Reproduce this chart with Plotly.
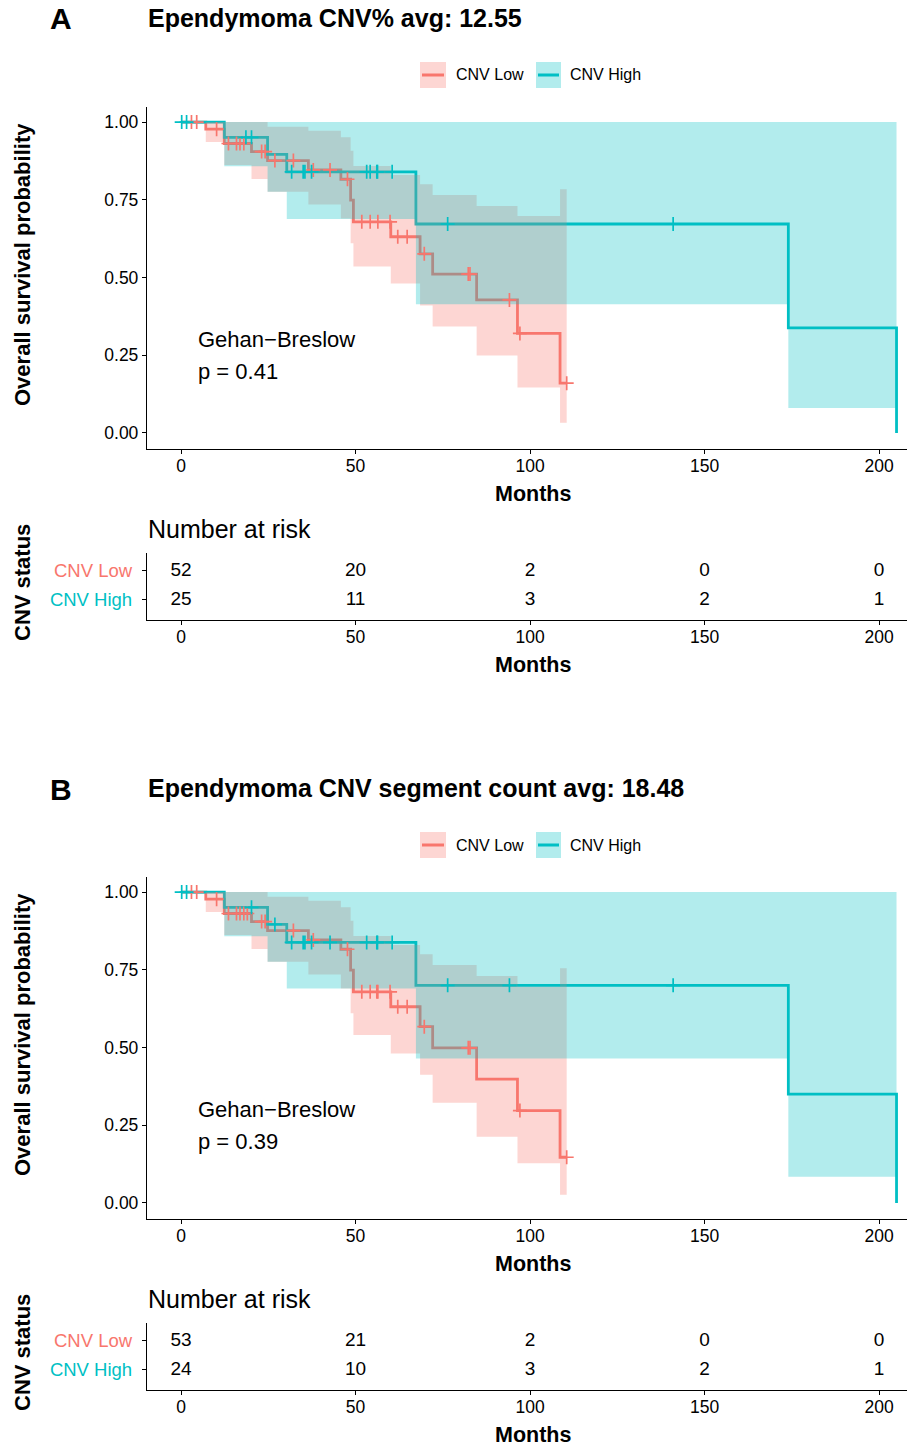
import numpy as np
import plotly.graph_objects as go

W, H = 907, 1447
RED = "#F8766D"
TEAL = "#00BFC4"
RED_FILL = "rgba(248,118,109,0.3)"
TEAL_FILL = "rgba(0,191,196,0.3)"
FONT = "Liberation Sans, Arial, sans-serif"

# ---- Panel A: CNV% split ----
a_low_t = [0, 7.1, 12.4, 20.2, 24.8, 36.5, 45.8, 48.6, 49.4, 60.1, 68.5, 72.1, 84.7, 96.4, 108.6, 110.5]
a_low_s = [1.0, 0.977, 0.931, 0.905, 0.876, 0.846, 0.816, 0.749, 0.679, 0.631, 0.576, 0.511, 0.428, 0.320, 0.160, 0.160]
a_low_up = [1.0, 1.0, 1.0, 1.0, 0.985, 0.972, 0.951, 0.908, 0.859, 0.83, 0.80, 0.765, 0.730, 0.698, 0.784, 0.784]
a_low_lo = [1.0, 0.936, 0.862, 0.817, 0.776, 0.735, 0.69, 0.61, 0.535, 0.481, 0.41, 0.342, 0.249, 0.146, 0.033, 0.033]
a_low_cens = [3.0, 4.5, 10.2, 13.6, 15.9, 16.9, 18.0, 23.1, 24.1, 26.9, 32.2, 37.9, 42.7, 47.7,
              51.8, 54.2, 56.4, 59.9, 62.1, 64.8, 69.7, 82.3, 82.8, 94.1, 97.1, 110.5]

a_high_t = [0, 12.4, 24.8, 30.3, 67.3, 174.0, 205.0]
a_high_s = [1.0, 0.951, 0.896, 0.840, 0.672, 0.338, 0.0]
a_high_up = [1.0, 1.0, 1.0, 1.0, 1.0, 1.0, 1.0]
a_high_lo = [1.0, 0.858, 0.776, 0.688, 0.414, 0.080, 0.080]
a_high_cens = [0.2, 1.6, 18.6, 20.2, 31.7, 35.0, 35.5, 37.4, 53.2, 54.2, 56.1, 56.3, 60.5, 76.4, 141.0]

a_risk_low = [52, 20, 2, 0, 0]
a_risk_high = [25, 11, 3, 2, 1]

# ---- Panel B: CNV segment count split ----
b_low_t = [0, 7.1, 12.4, 20.2, 24.8, 36.5, 45.8, 48.6, 49.4, 60.1, 68.5, 72.1, 84.7, 96.4, 108.6, 110.5]
b_low_s = [1.0, 0.977, 0.931, 0.905, 0.876, 0.846, 0.816, 0.749, 0.679, 0.631, 0.567, 0.499, 0.398, 0.297, 0.147, 0.147]
b_low_up = [1.0, 1.0, 1.0, 1.0, 0.985, 0.972, 0.951, 0.908, 0.859, 0.83, 0.80, 0.765, 0.730, 0.695, 0.755, 0.755]
b_low_lo = [1.0, 0.936, 0.862, 0.817, 0.776, 0.735, 0.69, 0.61, 0.540, 0.481, 0.412, 0.322, 0.213, 0.128, 0.026, 0.026]
b_low_cens = [3.0, 4.5, 10.2, 13.6, 15.9, 16.9, 18.0, 19.0, 23.1, 24.1, 32.2, 37.9, 47.7,
              51.8, 54.2, 56.1, 56.4, 59.9, 62.1, 64.8, 69.7, 82.3, 82.8, 97.1, 110.5]

b_high_t = [0, 12.4, 24.8, 30.3, 67.3, 174.0, 205.0]
b_high_s = [1.0, 0.951, 0.896, 0.838, 0.700, 0.350, 0.0]
b_high_up = [1.0, 1.0, 1.0, 1.0, 1.0, 1.0, 1.0]
b_high_lo = [1.0, 0.858, 0.776, 0.690, 0.465, 0.084, 0.084]
b_high_cens = [0.2, 1.6, 20.2, 26.9, 31.7, 35.0, 35.5, 37.4, 42.7, 53.2, 56.1, 56.3, 60.5, 76.4, 94.1, 141.0]

b_risk_low = [53, 21, 2, 0, 0]
b_risk_high = [24, 10, 3, 2, 1]

risk_times = [0, 50, 100, 150, 200]
x_ticks = [0, 50, 100, 150, 200]
y_ticks = [0, 0.25, 0.5, 0.75, 1.0]
y_ticklabels = ["0.00", "0.25", "0.50", "0.75", "1.00"]
group_names = ["CNV Low", "CNV High"]

panels = [
    dict(letter="A", title="Ependymoma CNV% avg: 12.55", pval="p = 0.41",
         low=(a_low_t, a_low_s, a_low_up, a_low_lo, a_low_cens),
         high=(a_high_t, a_high_s, a_high_up, a_high_lo, a_high_cens),
         risk=(a_risk_low, a_risk_high)),
    dict(letter="B", title="Ependymoma CNV segment count avg: 18.48", pval="p = 0.39",
         low=(b_low_t, b_low_s, b_low_up, b_low_lo, b_low_cens),
         high=(b_high_t, b_high_s, b_high_up, b_high_lo, b_high_cens),
         risk=(b_risk_low, b_risk_high)),
]

X_RANGE = [-9.74, 208.0]


def px_x(p):
    return p / W


def px_y(p):
    return 1 - p / H


def step_value(times, surv, t):
    i = np.searchsorted(np.asarray(times), t, side="right") - 1
    return surv[max(i, 0)]


fig = go.Figure()
annotations = []
shapes = []
layout_axes = {}

for k, pan in enumerate(panels):
    off = 770 * k
    ax_main = 2 * k + 1
    ax_tab = 2 * k + 2
    xa_m = "x" if ax_main == 1 else f"x{ax_main}"
    ya_m = "y" if ax_main == 1 else f"y{ax_main}"
    xa_t = f"x{ax_tab}"
    ya_t = f"y{ax_tab}"

    groups = [(pan["low"], RED, RED_FILL), (pan["high"], TEAL, TEAL_FILL)]

    # survival step curves (drawn first so the ribbons tint them)
    for (t, s, up, lo, cens), col, fcol in groups:
        fig.add_trace(go.Scatter(x=t, y=s, mode="lines", line=dict(color=col, width=2.8, shape="hv"),
                                 xaxis=xa_m, yaxis=ya_m, showlegend=False, hoverinfo="skip"))
    # confidence ribbons
    for (t, s, up, lo, cens), col, fcol in groups:
        fig.add_trace(go.Scatter(x=t, y=lo, mode="lines", line=dict(width=0, shape="hv"),
                                 xaxis=xa_m, yaxis=ya_m, showlegend=False, hoverinfo="skip"))
        fig.add_trace(go.Scatter(x=t, y=up, mode="lines", line=dict(width=0, shape="hv"),
                                 fill="tonexty", fillcolor=fcol,
                                 xaxis=xa_m, yaxis=ya_m, showlegend=False, hoverinfo="skip"))
    # censoring marks
    for (t, s, up, lo, cens), col, fcol in groups:
        cy = [step_value(t, s, c) for c in cens]
        fig.add_trace(go.Scatter(x=cens, y=cy, mode="markers",
                                 marker=dict(symbol="cross-thin", size=10, line=dict(color=col, width=1.7)),
                                 xaxis=xa_m, yaxis=ya_m, showlegend=False, hoverinfo="skip"))

    # risk table
    low_r, high_r = pan["risk"]
    fig.add_trace(go.Scatter(x=risk_times, y=[2] * len(risk_times), mode="text",
                             text=[str(v) for v in low_r], textfont=dict(size=19, color="black", family=FONT),
                             xaxis=xa_t, yaxis=ya_t, showlegend=False, hoverinfo="skip"))
    fig.add_trace(go.Scatter(x=risk_times, y=[1] * len(risk_times), mode="text",
                             text=[str(v) for v in high_r], textfont=dict(size=19, color="black", family=FONT),
                             xaxis=xa_t, yaxis=ya_t, showlegend=False, hoverinfo="skip"))

    common_x = dict(range=X_RANGE, tickvals=x_ticks, showline=True, linecolor="black", linewidth=1.3,
                    ticks="outside", ticklen=4, tickcolor="black", showgrid=False, zeroline=False,
                    ticklabelstandoff=-3,
                    tickfont=dict(size=17.5, color="black", family=FONT), domain=[px_x(147), 1.0])
    layout_axes["xaxis" if ax_main == 1 else f"xaxis{ax_main}"] = dict(common_x, anchor=ya_m)
    layout_axes["yaxis" if ax_main == 1 else f"yaxis{ax_main}"] = dict(
        range=[-0.05, 1.05], tickvals=y_ticks, ticktext=y_ticklabels, showline=True, linecolor="black",
        linewidth=1.3, ticks="outside", ticklen=4, tickcolor="black", showgrid=False, zeroline=False,
        tickfont=dict(size=17.5, color="black", family=FONT), anchor=xa_m,
        domain=[px_y(448.5 + off), px_y(106.5 + off)])
    layout_axes[f"xaxis{ax_tab}"] = dict(common_x, anchor=ya_t)
    layout_axes[f"yaxis{ax_tab}"] = dict(
        range=[0.31, 2.62], tickvals=[2, 1],
        ticktext=[f"<span style='color:{RED}'>{group_names[0]}</span>",
                  f"<span style='color:{TEAL}'>{group_names[1]}</span>"],
        showline=True, linecolor="black", linewidth=1.3, ticks="outside", ticklen=4, tickcolor="black",
        ticklabelstandoff=6,
        showgrid=False, zeroline=False, tickfont=dict(size=18.5, family=FONT), anchor=xa_t,
        domain=[px_y(620 + off), px_y(553 + off)])

    # panel letter and title
    annotations.append(dict(text=f"<b>{pan['letter']}</b>", x=px_x(61), y=px_y(19 + off), xref="paper",
                            yref="paper", showarrow=False, xanchor="center", yanchor="middle",
                            font=dict(size=30, color="black", family=FONT)))
    annotations.append(dict(text=f"<b>{pan['title']}</b>", x=px_x(146), y=px_y(18 + off), xref="paper",
                            yref="paper", showarrow=False, xanchor="left", yanchor="middle",
                            font=dict(size=25, color="black", family=FONT)))
    # legend keys
    for (x0, x1, tx, col, fcol, name) in [(420, 446, 455, RED, RED_FILL, group_names[0]),
                                          (536, 561, 569, TEAL, TEAL_FILL, group_names[1])]:
        shapes.append(dict(type="rect", xref="paper", yref="paper", x0=px_x(x0), x1=px_x(x1),
                           y0=px_y(88 + off), y1=px_y(62 + off), fillcolor=fcol, line=dict(width=0)))
        shapes.append(dict(type="line", xref="paper", yref="paper", x0=px_x(x0 + 2), x1=px_x(x1 - 2),
                           y0=px_y(75 + off), y1=px_y(75 + off), line=dict(color=col, width=3)))
        annotations.append(dict(text=name, x=px_x(tx - 1), y=px_y(75 + off), xref="paper", yref="paper",
                                showarrow=False, xanchor="left", yanchor="middle",
                                font=dict(size=16, color="black", family=FONT)))
    # axis titles
    annotations.append(dict(text="<b>Overall survival probability</b>", x=px_x(22), y=px_y(265 + off),
                            xref="paper", yref="paper", showarrow=False, textangle=-90,
                            xanchor="center", yanchor="middle", font=dict(size=22, color="black", family=FONT)))
    annotations.append(dict(text="<b>Months</b>", x=px_x(533), y=px_y(494 + off), xref="paper", yref="paper",
                            showarrow=False, xanchor="center", yanchor="middle",
                            font=dict(size=21.5, color="black", family=FONT)))
    annotations.append(dict(text="<b>Months</b>", x=px_x(533), y=px_y(665 + off), xref="paper", yref="paper",
                            showarrow=False, xanchor="center", yanchor="middle",
                            font=dict(size=21.5, color="black", family=FONT)))
    annotations.append(dict(text="<b>CNV status</b>", x=px_x(22), y=px_y(583 + off), xref="paper",
                            yref="paper", showarrow=False, textangle=-90, xanchor="center", yanchor="middle",
                            font=dict(size=22, color="black", family=FONT)))
    annotations.append(dict(text="Number at risk", x=px_x(146), y=px_y(529 + off), xref="paper", yref="paper",
                            showarrow=False, xanchor="left", yanchor="middle",
                            font=dict(size=25, color="black", family=FONT)))
    # test annotation inside the survival panel
    annotations.append(dict(text="Gehan\u2212Breslow", x=4.3, y=0.30, xref=xa_m, yref=ya_m, showarrow=False,
                            xanchor="left", yanchor="middle", font=dict(size=22, color="black", family=FONT)))
    annotations.append(dict(text=pan["pval"], x=4.3, y=0.197, xref=xa_m, yref=ya_m, showarrow=False,
                            xanchor="left", yanchor="middle", font=dict(size=22, color="black", family=FONT)))

fig.update_layout(width=W, height=H, margin=dict(l=0, r=0, t=0, b=0), plot_bgcolor="white",
                  paper_bgcolor="white", showlegend=False, annotations=annotations, shapes=shapes,
                  font=dict(family=FONT), **layout_axes)

fig.write_html("out.html")
